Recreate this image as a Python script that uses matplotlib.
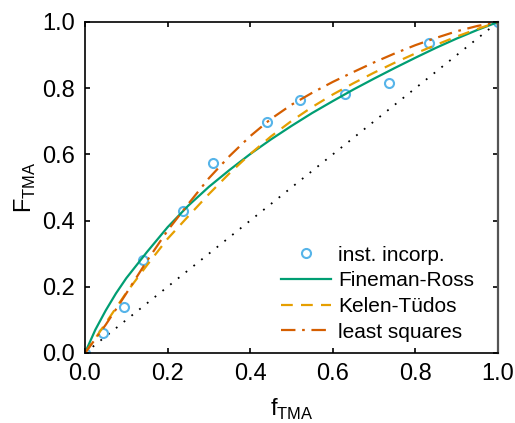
import numpy as np
import matplotlib
matplotlib.use("Agg")
import matplotlib.pyplot as plt

plt.rcParams['font.family'] = ['Liberation Sans', 'DejaVu Sans']
plt.rcParams['mathtext.fontset'] = 'custom'
plt.rcParams['mathtext.rm'] = 'Liberation Sans'

# measured instantaneous incorporation
f_exp = [0.0, 0.043, 0.095, 0.141, 0.238, 0.311, 0.44, 0.52, 0.63, 0.736, 0.833, 1.0]
F_exp = [0.0, 0.061, 0.138, 0.282, 0.430, 0.575, 0.698, 0.765, 0.783, 0.817, 0.936, 1.0]

# fitted curves
f_fit = [0.0, 0.025, 0.05, 0.075, 0.1, 0.15, 0.2, 0.25, 0.3, 0.35, 0.4, 0.45, 0.5,
         0.55, 0.6, 0.65, 0.7, 0.75, 0.8, 0.85, 0.9, 0.95, 1.0]
F_fr = [0.0, 0.07, 0.128, 0.18, 0.226, 0.305, 0.38, 0.445, 0.502, 0.553, 0.601, 0.645, 0.686,
        0.725, 0.761, 0.796, 0.829, 0.861, 0.892, 0.922, 0.95, 0.976, 1.0]
F_kt = [0.0, 0.044, 0.09, 0.136, 0.182, 0.265, 0.345, 0.413, 0.48, 0.543, 0.601, 0.654, 0.701,
        0.743, 0.781, 0.815, 0.847, 0.877, 0.905, 0.931, 0.956, 0.979, 1.0]
F_ls = [0.0, 0.042, 0.085, 0.132, 0.18, 0.278, 0.37, 0.45, 0.528, 0.595, 0.655, 0.707, 0.75,
        0.786, 0.819, 0.849, 0.878, 0.905, 0.93, 0.952, 0.972, 0.988, 1.0]
diag = [0.0, 1.0]

fig = plt.figure(figsize=(5.15, 4.23), dpi=100)
ax = fig.add_axes([0.165, 0.1655, 0.802, 0.7825])

ax.plot(diag, diag, c='black', lw=1.3, dashes=(1, 4.5))
ax.plot(f_exp, F_exp, 'o', mfc='none', mec='#56B4E9', ms=6.5, mew=1.5,
        label='inst. incorp.')
ax.plot(f_fit, F_fr, '-', c='#009E73', lw=1.6, label='Fineman-Ross')
ax.plot(f_fit, F_kt, '--', c='#E69F00', lw=1.6, dashes=(5.3, 3.7), label='Kelen-Tüdos')
ax.plot(f_fit, F_ls, '-.', c='#D55E00', lw=1.6, dashes=(6.5, 3, 1.2, 3),
        label='least squares')

ax.set_xlim(0, 1)
ax.set_ylim(0, 1)
ax.set_xticks(np.arange(0, 1.01, 0.2))
ax.set_yticks(np.arange(0, 1.01, 0.2))
ax.tick_params(direction='in', top=True, right=True, length=3.6, width=1.2,
               labelsize=17)
ax.tick_params(axis='x', pad=7)
ax.tick_params(axis='y', pad=7)
for s in ['left', 'bottom', 'top']:
    ax.spines[s].set_linewidth(1.2)
ax.spines['right'].set_linewidth(1.6)
ax.spines['right'].set_color('#555555')

ax.set_xlabel(r'f$_\mathregular{TMA}$', fontsize=17, labelpad=9)
ax.set_ylabel(r'F$_\mathregular{TMA}$', fontsize=17, labelpad=3)

ax.legend(loc='lower right', frameon=False, fontsize=15, handlelength=2.4,
          handletextpad=0.33, labelspacing=0.32, borderaxespad=0.5,
          bbox_to_anchor=(0.988, -0.022))

fig.savefig('out.png', dpi=100)
